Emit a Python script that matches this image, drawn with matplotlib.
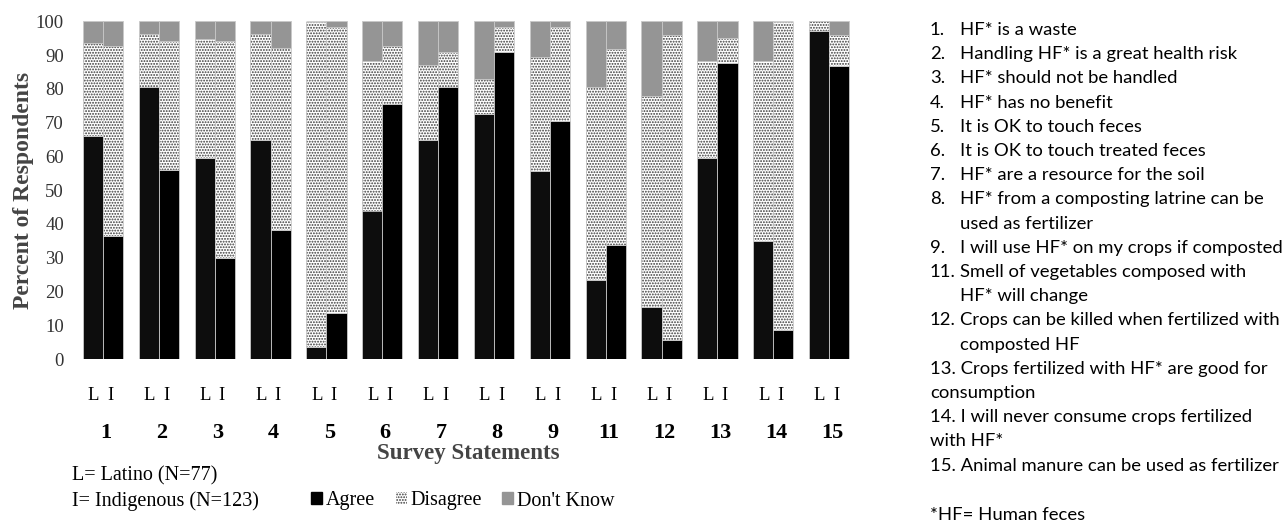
import matplotlib
matplotlib.use("Agg")
import matplotlib.pyplot as plt
from matplotlib.patches import Patch
import numpy as np

# survey statements (x groups)
statements = ["1", "2", "3", "4", "5", "6", "7", "8", "9", "11", "12", "13", "14", "15"]

# percent of respondents, Latino (L)
lat_agree = [66.1, 80.5, 59.6, 64.9, 3.7, 44.0, 64.9, 72.7, 55.7, 23.3, 15.4, 59.5, 34.9, 97.3]
lat_disagree = [27.5, 15.7, 35.3, 31.3, 96.3, 44.4, 22.1, 10.3, 33.9, 57.3, 62.6, 28.8, 53.4, 2.7]
lat_dontknow = [6.4, 3.8, 5.1, 3.8, 0.0, 11.6, 13.0, 17.0, 10.4, 19.4, 22.0, 11.7, 11.7, 0.0]

# percent of respondents, Indigenous (I)
ind_agree = [36.4, 56.0, 29.9, 38.2, 13.6, 75.6, 80.5, 91.1, 70.6, 33.9, 5.5, 87.8, 8.7, 86.9]
ind_disagree = [56.4, 38.3, 64.4, 53.8, 84.9, 17.2, 10.6, 7.4, 27.9, 57.9, 90.4, 7.3, 91.3, 9.0]
ind_dontknow = [7.2, 5.7, 5.7, 8.0, 1.5, 7.2, 8.9, 1.5, 1.5, 8.2, 4.1, 4.9, 0.0, 4.1]

statement_text = [
    ("1.", ["HF* is a waste"]),
    ("2.", ["Handling HF* is a great health risk"]),
    ("3.", ["HF* should not be handled"]),
    ("4.", ["HF* has no benefit"]),
    ("5.", ["It is OK to touch feces"]),
    ("6.", ["It is OK to touch treated feces"]),
    ("7.", ["HF* are a resource for the soil"]),
    ("8.", ["HF* from a composting latrine can be", "used as fertilizer"]),
    ("9.", ["I will use HF* on my crops if composted"]),
    ("11.", ["Smell of vegetables composed with", "HF* will change"]),
    ("12.", ["Crops can be killed when fertilized with", "composted HF"]),
]
# these items wrap back to the left margin in the original
statement_flat = [
    "13. Crops fertilized with HF* are good for",
    "consumption",
    "14. I will never consume crops fertilized",
    "with HF*",
    "15. Animal manure can be used as fertilizer",
]

serif = "Liberation Serif"
sans = "Lato"
plt.rcParams["hatch.linewidth"] = 0.9

W, H = 1285, 521
fig = plt.figure(figsize=(W / 100, H / 100), dpi=100)
ax = fig.add_axes([75 / W, (H - 359) / H, 838 / W, 337.5 / H])

x = np.arange(len(statements))
bw = 0.36
off = 0.18
edge = "#c8c8c8"
hatch_c = "#3a3a3a"
agree_c = ["#0d0d0d", "#000000"]
dk_c = "#959595"

for k, (a, d, n) in enumerate([(lat_agree, lat_disagree, lat_dontknow),
                               (ind_agree, ind_disagree, ind_dontknow)]):
    pos = x - off if k == 0 else x + off
    a = np.array(a)
    d = np.array(d)
    n = np.array(n)
    ax.bar(pos, a, bw, color=agree_c[k], edgecolor=edge, linewidth=0.6)
    # hatch takes the edge colour, so draw it without an outline
    ax.bar(pos, d, bw, bottom=a, color="white", edgecolor=hatch_c, linewidth=0,
           hatch="......")
    ax.bar(pos, d, bw, bottom=a, fill=False, edgecolor=edge, linewidth=0.6)
    ax.bar(pos, n, bw, bottom=a + d, color=dk_c, edgecolor=edge, linewidth=0.6)

ax.set_xlim(-0.5, 14.5)
ax.set_ylim(0, 100)
ax.set_yticks(range(0, 101, 10))
ax.tick_params(axis="y", length=0, pad=8, labelsize=13.5)
for lab in ax.get_yticklabels():
    lab.set_fontfamily(serif)
    lab.set_color("#333333")
ax.set_xticks([])
for s in ax.spines.values():
    s.set_visible(False)

ax.set_ylabel("Percent of Respondents", fontfamily=serif, fontsize=17,
              fontweight="bold", color="#444444", labelpad=1)

trans = ax.get_xaxis_transform()
for i, s in enumerate(statements):
    ax.text(i - 0.17, -0.107, "L", transform=trans, ha="center", va="center",
            fontfamily=serif, fontsize=13.5)
    ax.text(i + 0.13, -0.107, "I", transform=trans, ha="center", va="center",
            fontfamily=serif, fontsize=13.5)
    ax.text(i + 0.05, -0.22, s, transform=trans, ha="center", va="center",
            fontfamily=serif, fontsize=16, fontweight="bold")

fig.text(468 / W, 1 - 453 / H, "Survey Statements", ha="center", va="center",
         fontfamily=serif, fontsize=16.5, fontweight="bold", color="#444444")
fig.text(72 / W, 1 - 476 / H, "L= Latino (N=77)", ha="left", va="center",
         fontfamily=serif, fontsize=14.5)
fig.text(72 / W, 1 - 501 / H, "I= Indigenous (N=123)", ha="left", va="center",
         fontfamily=serif, fontsize=14.5)

handles = [
    Patch(facecolor="#000000", edgecolor="#000000", label="Agree"),
    Patch(facecolor="white", edgecolor=hatch_c, hatch="......", linewidth=0, label="Disagree"),
    Patch(facecolor=dk_c, edgecolor=dk_c, label="Don't Know"),
]
fig.legend(handles=handles, loc="center left", bbox_to_anchor=(293 / W, 1 - 501 / H),
           ncol=3, frameon=False, handlelength=0.55, handleheight=0.55,
           handletextpad=0.2, columnspacing=1.0,
           prop={"family": serif, "size": 14.5})

# statement list on the right
y = 30
step = 24.2
fs = 13.3
for num, lines in statement_text:
    fig.text(930 / W, 1 - y / H, num, ha="left", va="center", fontfamily=sans, fontsize=fs)
    for ln in lines:
        fig.text(960 / W, 1 - y / H, ln, ha="left", va="center", fontfamily=sans, fontsize=fs)
        y += step
for ln in statement_flat:
    fig.text(930 / W, 1 - y / H, ln, ha="left", va="center", fontfamily=sans, fontsize=fs)
    y += step
fig.text(930 / W, 1 - 515 / H, "*HF= Human feces", ha="left", va="center",
         fontfamily=sans, fontsize=fs)

fig.savefig("out.png", dpi=100)
